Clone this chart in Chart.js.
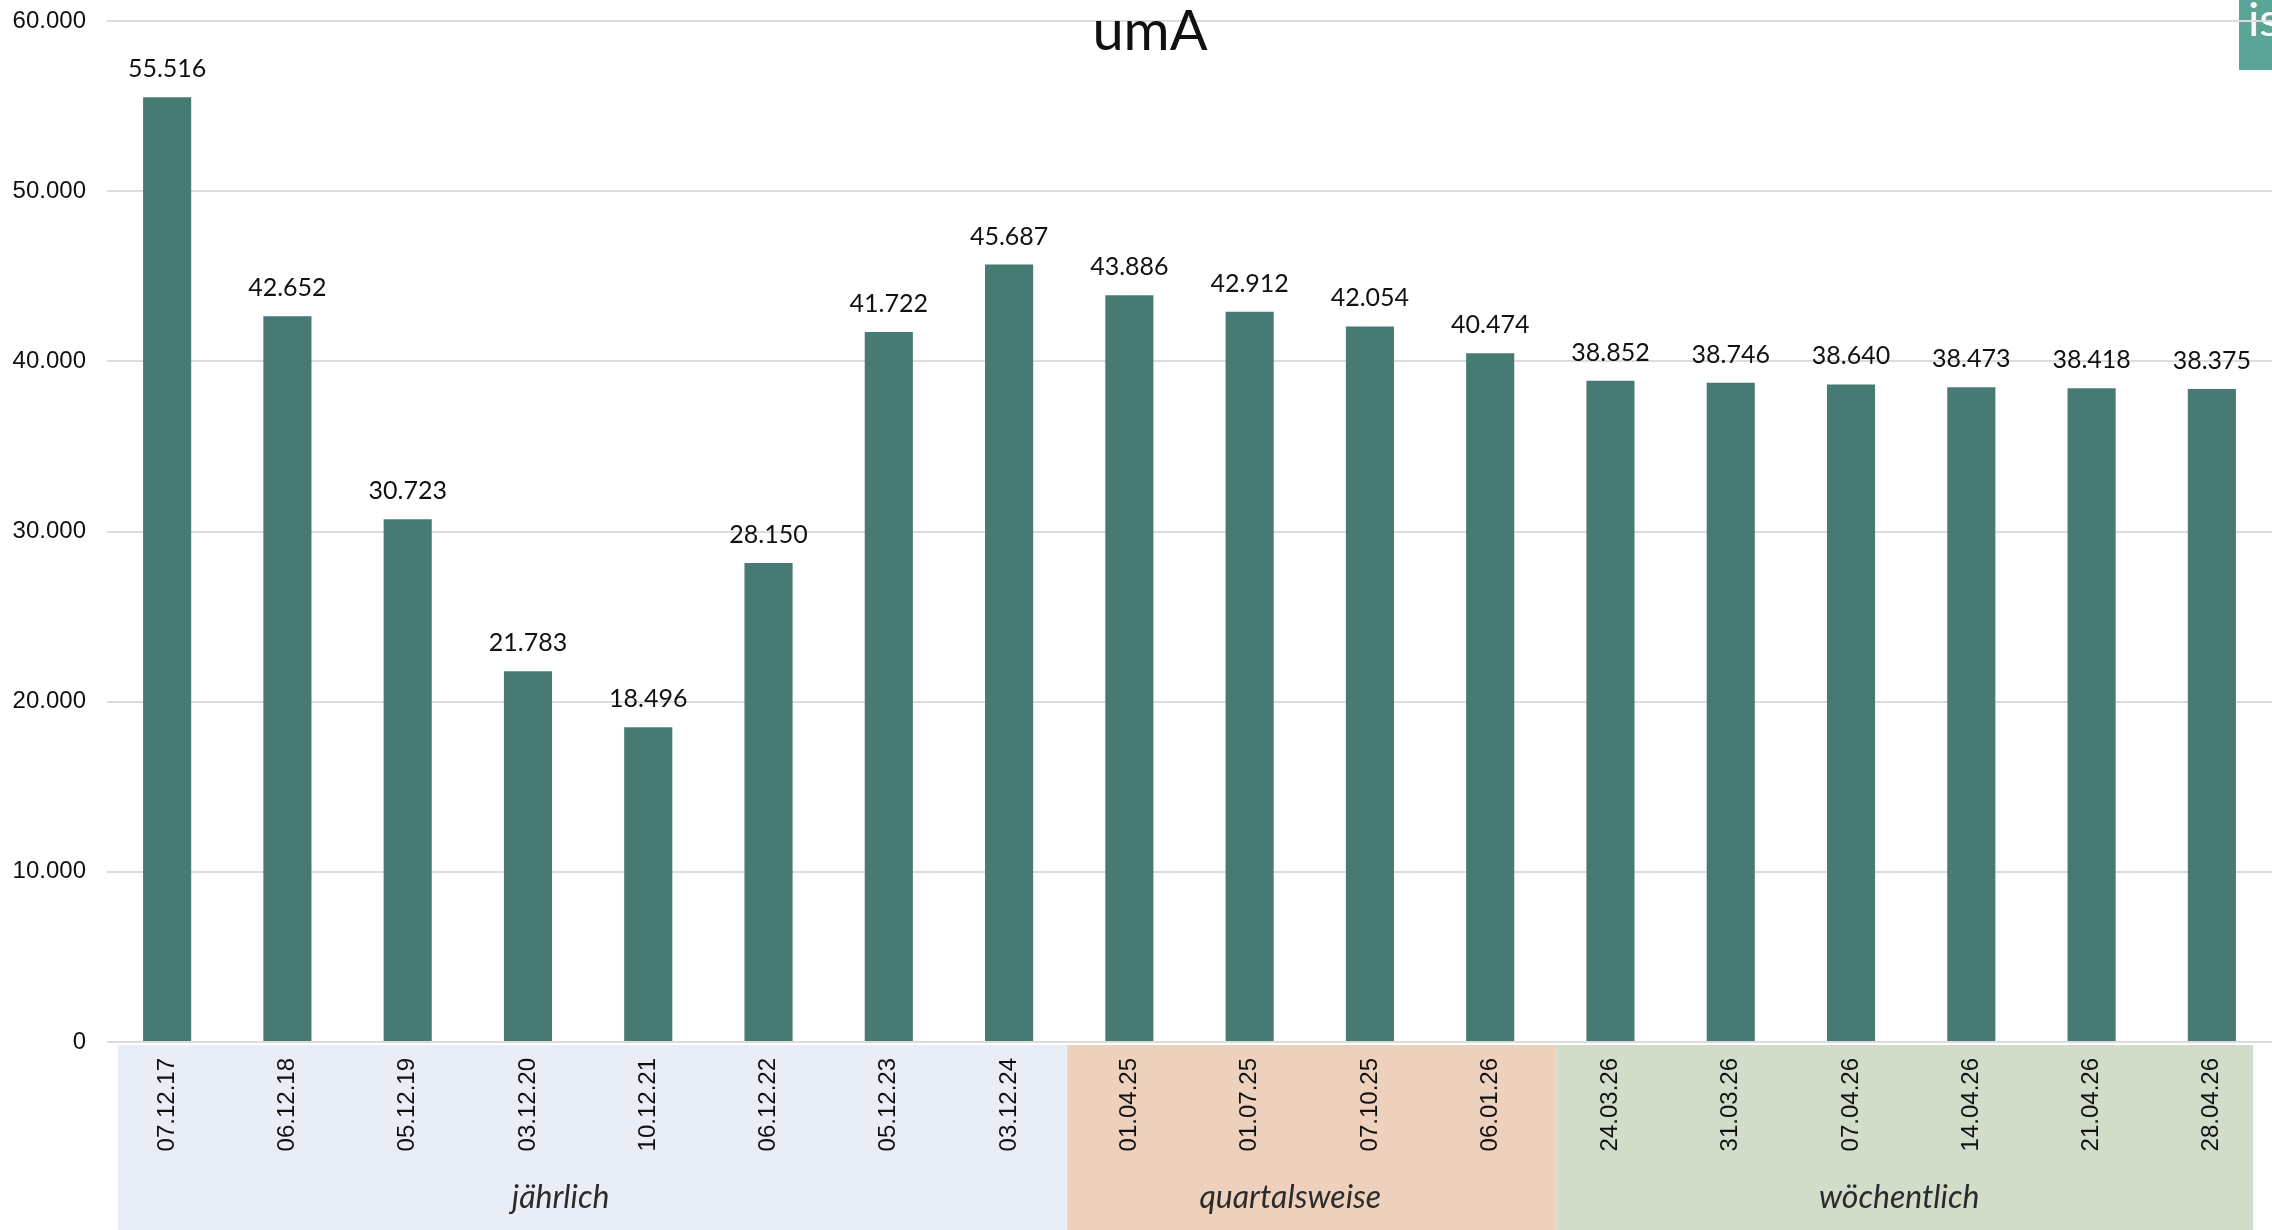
<!DOCTYPE html>
<html lang="de">
<head>
<meta charset="utf-8">
<title>umA</title>
<script src="https://cdn.jsdelivr.net/npm/chart.js@4.4.1/dist/chart.umd.min.js"></script>
<style>
    html, body { margin: 0; padding: 0; background: #fff; }
    #wrap { position: relative; width: 2272px; height: 1230px; overflow: hidden; }
    /* the little logo box in the top right corner, cut off by the page edge */
    #logo { position: absolute; top: 0; right: 0; width: 33px; height: 70px; background: #5ba597; overflow: hidden; }
    #logo span { position: absolute; left: 9px; top: -5px; color: #fff; font: 47px/1 Lato, sans-serif; white-space: nowrap; }
    #umaChart { position: absolute; left: 0; top: 0; }
</style>
</head>
<body>
<div id="wrap">
    <div id="logo"><span>is</span></div>
    <canvas id="umaChart" width="2272" height="1230"></canvas>
</div>

<script>
const dates = [
    '07.12.17', '06.12.18', '05.12.19', '03.12.20', '10.12.21', '06.12.22', '05.12.23', '03.12.24',
    '01.04.25', '01.07.25', '07.10.25', '06.01.26',
    '24.03.26', '31.03.26', '07.04.26', '14.04.26', '21.04.26', '28.04.26'
]
const umaCounts = [
    55516, 42652, 30723, 21783, 18496, 28150, 41722, 45687,
    43886, 42912, 42054, 40474,
    38852, 38746, 38640, 38473, 38418, 38375
]
const yTickValues = [0, 10000, 20000, 30000, 40000, 50000, 60000]

// groups under the x axis (how many dates belong to each one)
const groupNames = ['jährlich', 'quartalsweise', 'wöchentlich']
const groupSizes = [8, 4, 6]
const groupColors = ['#e9edf6', '#eed1bd', '#d1ddc9']

const titleText = 'umA'

// 60000 -> "60.000"
function formatDe(v) {
    return String(v).replace(/\B(?=(\d{3})+(?!\d))/g, '.')
}

// small nudges so the bands sit where they do in the original
const edgeNudge = [[11, -2], [-2, 5], [5, -19]]
const labelNudge = [-32, -21, -5] // group labels are not quite centred in the reference

function bandEdges(chart) {
    const xs = chart.scales.x
    const step = xs.getPixelForValue(1) - xs.getPixelForValue(0)
    let start = 0
    return groupSizes.map((n, g) => {
        const left = xs.getPixelForValue(start) - step / 2 + edgeNudge[g][0]
        const right = xs.getPixelForValue(start + n - 1) + step / 2 + edgeNudge[g][1]
        start += n
        return [left, right]
    })
}

// coloured bands + their labels below the axis
const groupBands = {
    id: 'groupBands',
    beforeDraw(chart) {
        const ctx = chart.ctx
        const top = chart.chartArea.bottom + 3
        ctx.save()
        bandEdges(chart).forEach(([left, right], g) => {
            ctx.fillStyle = groupColors[g]
            ctx.fillRect(left, top, right - left, chart.height - top)
        })
        ctx.restore()
    },
    afterDraw(chart) {
        const ctx = chart.ctx
        ctx.save()
        ctx.font = 'italic 32px Lato, sans-serif'
        ctx.fillStyle = '#2b2b2b'
        ctx.textAlign = 'center'
        ctx.textBaseline = 'alphabetic'
        bandEdges(chart).forEach(([left, right], g) => {
            ctx.fillText(groupNames[g], (left + right) / 2 + labelNudge[g], chart.chartArea.bottom + 166)
        })
        ctx.restore()
    }
}

// numbers above the bars
const barValues = {
    id: 'barValues',
    afterDatasetsDraw(chart) {
        const ctx = chart.ctx
        const meta = chart.getDatasetMeta(0)
        ctx.save()
        ctx.font = '25px Lato, sans-serif'
        ctx.fillStyle = '#111'
        ctx.textAlign = 'center'
        ctx.textBaseline = 'alphabetic'
        meta.data.forEach((bar, i) => {
            ctx.fillText(formatDe(umaCounts[i]), bar.x, bar.y - 20)
        })
        ctx.restore()
    }
}

// title sits on top of the plot (overlaps the 60.000 line), so draw it by hand
const overlayTitle = {
    id: 'overlayTitle',
    afterDraw(chart) {
        const ctx = chart.ctx
        ctx.save()
        ctx.font = '56px Lato, sans-serif'
        ctx.fillStyle = '#111'
        ctx.textAlign = 'center'
        ctx.textBaseline = 'alphabetic'
        ctx.fillText(titleText, chart.width / 2 + 14, 50)
        ctx.restore()
    }
}

const ctx = document.getElementById('umaChart')

const myChart = new Chart(ctx, {
    type: 'bar',
    data: {
        labels: dates,
        datasets: [{
            label: titleText,
            data: umaCounts,
            backgroundColor: '#467a72',
            borderWidth: 0,
            barPercentage: 0.4,
            categoryPercentage: 1.0
        }]
    },
    options: {
        responsive: false,
        animation: false,
        layout: {
            padding: { top: 21, right: 0, bottom: 0, left: 0 }
        },
        plugins: {
            legend: { display: false },
            tooltip: { enabled: false }
        },
        scales: {
            x: {
                grid: { display: false, drawTicks: false },
                border: { display: false },
                ticks: {
                    autoSkip: false,
                    minRotation: 90,
                    maxRotation: 90,
                    padding: 16,
                    color: '#111',
                    font: { family: 'Liberation Sans', size: 24 }
                },
                afterFit(scale) { scale.height = 188 } // room for dates + group bands
            },
            y: {
                min: 0,
                max: 60000,
                afterBuildTicks(scale) {
                    scale.ticks = yTickValues.map(v => ({ value: v }))
                },
                ticks: {
                    padding: 21,
                    color: '#111',
                    font: { family: 'Liberation Sans', size: 24 },
                    callback: (value) => formatDe(value)
                },
                grid: { color: '#dcdcdc', lineWidth: 2, drawTicks: false },
                border: { display: false },
                afterFit(scale) {
                    scale.width = 107
                    // tick padding would otherwise push the plot top down
                    scale.paddingTop = 0
                    scale.paddingBottom = 0
                }
            }
        }
    },
    plugins: [groupBands, barValues, overlayTitle]
})
</script>
</body>
</html>
